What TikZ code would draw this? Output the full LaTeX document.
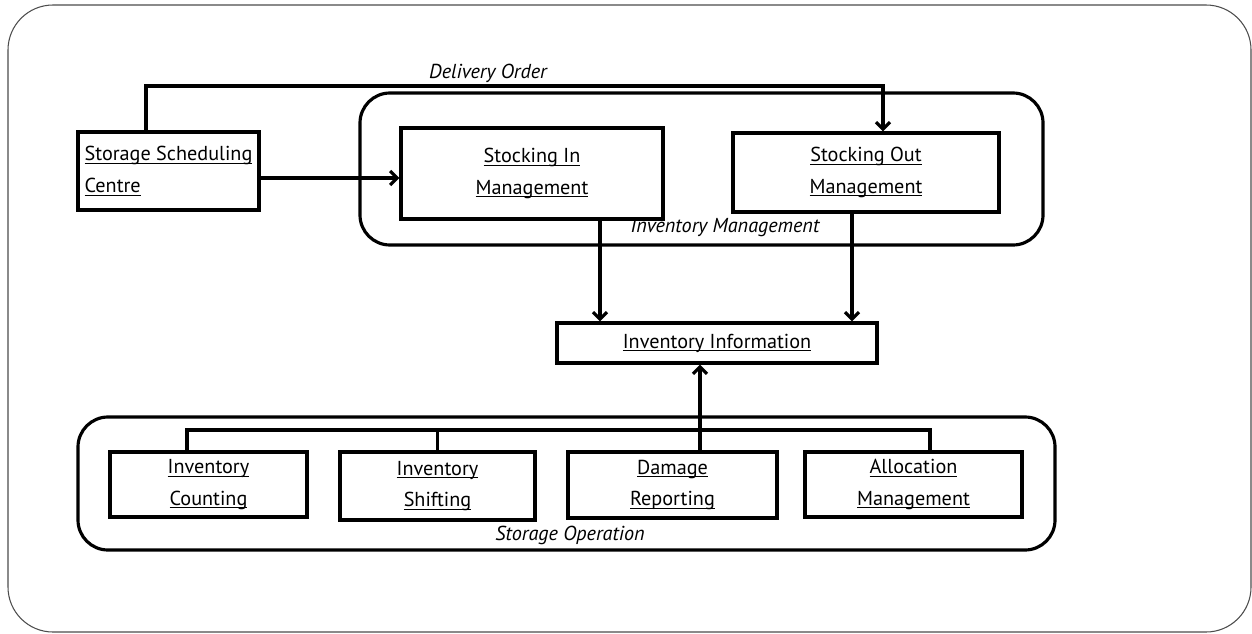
\documentclass[tikz,border=0pt]{standalone}
\usepackage{fontspec}
\setmainfont{PT Sans}
\usetikzlibrary{positioning}
\usetikzlibrary{arrows.meta}
\newcommand{\udl}[1]{\leavevmode\setbox0\hbox{#1}\rlap{\rule[-1.6pt]{\wd0}{0.5pt}}\box0}

\begin{document}
\begin{tikzpicture}[scale=1.0,
        box/.style={draw, line width=1.8pt, inner sep=0pt, align=center, font=\fontsize{11.5}{18}\selectfont},
        group/.style={draw, line width=1.8pt, rounded corners=0.6cm, inner sep=0pt},
        lbl/.style={font=\fontsize{11.5}{13}\selectfont\itshape},
        link/.style={-{Straight Barb[length=4pt,width=8pt]}, line width=1.8pt},
        wire/.style={line width=1.8pt}]
        \useasboundingbox (0,0) rectangle (25.04,12.66);

        % outer frame
        \draw[black!70, line width=0.6pt, rounded corners=0.9cm] (0.16,0.02) rectangle (25.02,12.56);

        % groups
        \node[group, minimum width=13.66cm, minimum height=3.04cm] (invmgmt) at (14.03,9.28) {};
        \node[group, minimum width=19.54cm, minimum height=2.66cm] (storop) at (11.33,2.99) {};
        \node[lbl] (invmgmtlabel) at (14.5,8.1) {Inventory Management};
        \node[lbl] (storoplabel) at (11.4,1.96) {Storage Operation};

        % top row
        \node[box, align=left, minimum width=3.62cm, minimum height=1.56cm] (ssc) at (3.37,9.24) {\udl{Storage Scheduling}\\\udl{Centre}};
        \node[box, minimum width=5.24cm, minimum height=1.82cm] (stockin) at (10.64,9.19) {\udl{Stocking In}\\\udl{Management}};
        \node[box, minimum width=5.32cm, minimum height=1.58cm] (stockout) at (17.32,9.21) {\udl{Stocking Out}\\\udl{Management}};

        % middle
        \node[box, minimum width=6.4cm, minimum height=0.8cm] (info) at (14.34,5.8) {\udl{Inventory Information}};

        % bottom row
        \node[box, minimum width=3.94cm, minimum height=1.3cm] (counting) at (4.17,2.97) {\udl{Inventory}\\\udl{Counting}};
        \node[box, minimum width=3.9cm, minimum height=1.36cm] (shifting) at (8.75,2.94) {\udl{Inventory}\\\udl{Shifting}};
        \node[box, minimum width=4.18cm, minimum height=1.32cm] (damage) at (13.45,2.96) {\udl{Damage}\\\udl{Reporting}};
        \node[box, minimum width=4.34cm, minimum height=1.3cm] (allocation) at (18.27,2.97) {\udl{Allocation}\\\udl{Management}};

        % delivery order
        \coordinate (dotop) at (2.92,10.94);
        \draw[link] (dotop |- ssc.north) -- (dotop) -| ([xshift=0.34cm]stockout.north);
        \node[lbl] (dolabel) at (9.76,11.2) {Delivery Order};

        \draw[link] ([yshift=-0.14cm]ssc.east) -- ([yshift=-0.14cm]ssc.east -| stockin.west);

        % into inventory information
        \draw[link] ([xshift=1.36cm]stockin.south) -- ([xshift=1.36cm]stockin.south |- info.north);
        \draw[link] ([xshift=-0.28cm]stockout.south) -- ([xshift=-0.28cm]stockout.south |- info.north);

        % storage operation bus
        \coordinate (bus) at (14.0,4.06);
        \draw[wire] ([xshift=-0.43cm]counting.north) |- ([xshift=0.33cm]allocation.north |- bus) -- ([xshift=0.33cm]allocation.north);
        \draw[wire] (shifting.north) -- (shifting.north |- bus);
        \draw[link] ([xshift=0.55cm]damage.north) -- ([xshift=0.55cm]damage.north |- info.south);

    \end{tikzpicture}
\end{document}
